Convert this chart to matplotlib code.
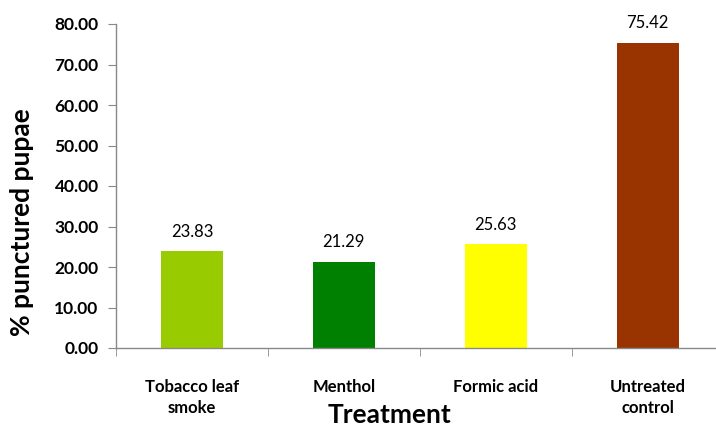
import matplotlib
matplotlib.use("Agg")
import matplotlib.pyplot as plt
from matplotlib.ticker import FixedLocator, NullFormatter

plt.rcParams['font.family'] = ['Lato', 'DejaVu Sans']

categories = ["Tobacco leaf\nsmoke", "Menthol", "Formic acid", "Untreated\ncontrol"]
values = [23.83, 21.29, 25.63, 75.42]
colors = ["#99cc00", "#008000", "#ffff00", "#993300"]
yticks = [0, 10, 20, 30, 40, 50, 60, 70, 80]

fig = plt.figure(figsize=(7.16, 4.26), dpi=100)
ax = fig.add_axes([116/716, 1 - 348/426, 1 - 116/716, (348 - 24)/426])

x = list(range(len(categories)))
ax.bar(x, values, width=0.41, color=colors, zorder=2)
for xi, v in zip(x, values):
    ax.annotate(f"{v:.2f}", (xi, v), xytext=(0, 14), textcoords="offset points",
                ha="center", va="center", fontsize=12)

ax.set_ylim(0, 80)
ax.set_xlim(-0.5, 3.45)
ax.set_yticks(yticks)
ax.set_yticklabels([f"{t:.2f}" for t in yticks], fontsize=12.5, fontweight="bold")
ax.set_xticks(x)
ax.set_xticklabels(categories, fontsize=12, fontweight="bold", linespacing=1.45)
ax.tick_params(axis="x", length=0, pad=22)
ax.xaxis.set_minor_locator(FixedLocator([-0.5, 0.5, 1.5, 2.5, 3.5]))
ax.xaxis.set_minor_formatter(NullFormatter())
ax.tick_params(axis="x", which="minor", length=5.5, color="#888888", direction="out")
ax.tick_params(axis="y", length=5.5, color="#888888", direction="out", pad=7)

for side in ["top", "right"]:
    ax.spines[side].set_visible(False)
for side in ["left", "bottom"]:
    ax.spines[side].set_color("#888888")
    ax.spines[side].set_linewidth(1)

ax.set_ylabel("% punctured pupae", fontsize=19, fontweight="bold")
ax.yaxis.set_label_coords(-(116 - 22) / 600, 0.5 - (222 - 186) / 324)
ax.yaxis.label.set_va("center")
ax.set_xlabel("Treatment", fontsize=19, fontweight="bold")
ax.xaxis.set_label_coords((389 - 116) / 600, (348 - 415) / 324)
ax.xaxis.label.set_va("center")

fig.savefig("out.png", dpi=100)
